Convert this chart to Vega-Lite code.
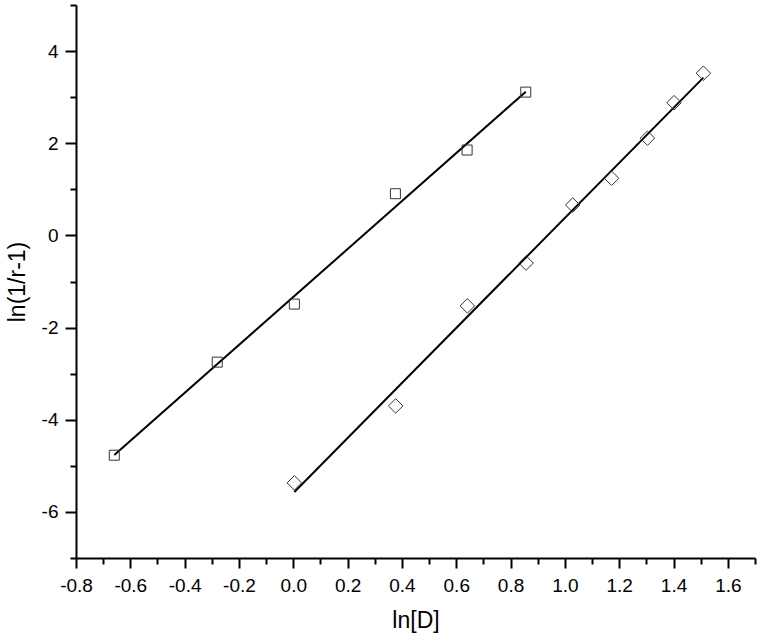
{
  "$schema": "https://vega.github.io/schema/vega-lite/v6.json",
  "width": 679,
  "height": 553,
  "autosize": {"type": "none"},
  "padding": {"left": 76, "top": 5, "right": 6, "bottom": 83},
  "background": "white",
  "config": {
    "view": {"stroke": null},
    "font": "Liberation Sans"
  },
  "data": {
    "values": [
      {"series": "A", "x": -0.659, "y": -4.77},
      {"series": "A", "x": -0.280, "y": -2.75},
      {"series": "A", "x": 0.004, "y": -1.49},
      {"series": "A", "x": 0.376, "y": 0.905},
      {"series": "A", "x": 0.640, "y": 1.853},
      {"series": "A", "x": 0.856, "y": 3.11},
      {"series": "B", "x": 0.004, "y": -5.37},
      {"series": "B", "x": 0.377, "y": -3.70},
      {"series": "B", "x": 0.641, "y": -1.53},
      {"series": "B", "x": 0.857, "y": -0.60},
      {"series": "B", "x": 1.029, "y": 0.66},
      {"series": "B", "x": 1.172, "y": 1.24},
      {"series": "B", "x": 1.304, "y": 2.11},
      {"series": "B", "x": 1.402, "y": 2.88},
      {"series": "B", "x": 1.510, "y": 3.52}
    ]
  },
  "encoding": {
    "x": {
      "field": "x", "type": "quantitative",
      "scale": {"domain": [-0.8, 1.7], "nice": false, "zero": false},
      "axis": {
        "title": "ln[D]",
        "values": [-0.8, -0.7, -0.6, -0.5, -0.4, -0.3, -0.2, -0.1, 0, 0.1, 0.2, 0.3, 0.4, 0.5, 0.6, 0.7, 0.8, 0.9, 1.0, 1.1, 1.2, 1.3, 1.4, 1.5, 1.6, 1.7],
        "labelExpr": "abs(datum.value*5 - round(datum.value*5)) < 0.001 ? replace(format(datum.value, '.1f'), '\u2212', '-') : ''",
        "grid": false,
        "domainColor": "black", "domainWidth": 2,
        "tickColor": "black", "tickWidth": 2,
        "tickSize": {"condition": {"test": "abs(datum.value*5 - round(datum.value*5)) < 0.001", "value": 10}, "value": 6},
        "labelFontSize": 19, "labelColor": "black", "labelPadding": 8,
        "labelFlush": false, "labelOverlap": false,
        "titleFontSize": 23, "titleFontWeight": "normal", "titleColor": "black", "titlePadding": 14
      }
    },
    "y": {
      "field": "y", "type": "quantitative",
      "scale": {"domain": [-7, 5], "nice": false, "zero": false},
      "axis": {
        "title": "ln(1/r-1)",
        "values": [-7, -6, -5, -4, -3, -2, -1, 0, 1, 2, 3, 4, 5],
        "labelExpr": "datum.value % 2 === 0 ? replace(format(datum.value, 'd'), '\u2212', '-') : ''",
        "grid": false,
        "domainColor": "black", "domainWidth": 2,
        "tickColor": "black", "tickWidth": 2,
        "tickSize": {"condition": {"test": "datum.value % 2 === 0", "value": 11}, "value": 6},
        "labelFontSize": 19, "labelColor": "black", "labelPadding": 7,
        "labelFlush": false, "labelOverlap": false,
        "titleFontSize": 23, "titleFontWeight": "normal", "titleColor": "black", "titlePadding": 12
      }
    }
  },
  "layer": [
    {
      "transform": [{"regression": "y", "on": "x", "groupby": ["series"]}],
      "mark": {"type": "line", "color": "black", "strokeWidth": 2},
      "encoding": {"detail": {"field": "series"}}
    },
    {
      "mark": {"type": "point", "filled": false, "strokeWidth": 1, "opacity": 1},
      "encoding": {
        "shape": {"field": "series", "type": "nominal", "scale": {"domain": ["A", "B"], "range": ["square", "diamond"]}, "legend": null},
        "size": {"field": "series", "type": "nominal", "scale": {"domain": ["A", "B"], "range": [100, 210]}, "legend": null},
        "color": {"value": "#333333"}
      }
    }
  ]
}
